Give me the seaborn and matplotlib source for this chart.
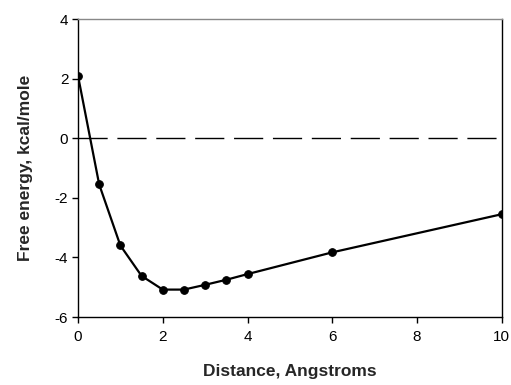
import matplotlib
matplotlib.use("Agg")
import matplotlib.pyplot as plt
import seaborn as sns
import pandas as pd

distance = [0.0, 0.5, 1.0, 1.5, 2.0, 2.5, 3.0, 3.5, 4.0, 6.0, 10.0]
free_energy = [2.1, -1.55, -3.6, -4.62, -5.08, -5.08, -4.92, -4.75, -4.56, -3.83, -2.55]
x_ticks = [0, 2, 4, 6, 8, 10]
y_ticks = [-6, -4, -2, 0, 2, 4]

sns.set_theme(style="ticks")
plt.rcParams['font.family'] = ['Liberation Sans', 'DejaVu Sans']

df = pd.DataFrame({"Distance": distance, "Energy": free_energy})

fig = plt.figure(figsize=(5.11, 3.85), dpi=100)
ax = fig.add_axes([0.1526, 0.1766, 0.8294, 0.774])

ax.axhline(0, color="black", lw=1.0, dashes=(21, 7), zorder=1)
sns.lineplot(data=df, x="Distance", y="Energy", ax=ax, color="black", lw=1.6,
             marker="o", markersize=5.5, markeredgecolor="black", zorder=3)

ax.set_xlim(0, 10)
ax.set_ylim(-6, 4)
ax.set_xticks(x_ticks)
ax.set_yticks(y_ticks)
ax.set_xticklabels([str(t) for t in x_ticks])
ax.set_yticklabels([str(t) for t in y_ticks])
ax.tick_params(axis="both", direction="out", length=4, width=1, labelsize=11, colors="black", pad=3)
ax.tick_params(axis="x", pad=5)
ax.set_xlabel("Distance, Angstroms", fontsize=12.5, fontweight="bold", labelpad=15)
ax.set_ylabel("Free energy, kcal/mole", fontsize=12.5, fontweight="bold", labelpad=16)

for side in ["left", "bottom", "right"]:
    ax.spines[side].set_color("black")
    ax.spines[side].set_linewidth(1.0)
ax.spines["top"].set_color("#888888")
ax.spines["top"].set_linewidth(1.0)

fig.savefig("out.png", dpi=100)
